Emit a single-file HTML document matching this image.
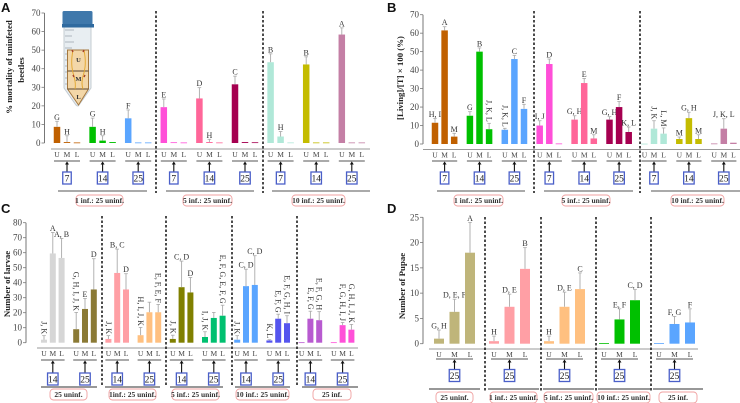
<!DOCTYPE html>
<html lang="en">
<head>
<meta charset="utf-8">
<title>Beetle mortality and offspring charts</title>
<style>
html,body{margin:0;padding:0;background:#fff;width:740px;height:403px;overflow:hidden}
svg{display:block;filter:blur(0.3px)}
text{font-family:"Liberation Serif",serif;fill:#333}
.ptitle{font-family:"Liberation Sans",sans-serif;font-weight:bold;font-size:13px;fill:#111}
.ax{font-weight:bold;font-size:8.8px;fill:#222}
.tick{font-size:9px;fill:#444}
.let{font-size:8px;fill:#333}
.uml{font-size:7.5px;fill:#444}
.pill{font-size:7.5px;font-weight:bold;fill:#333}
.day{font-size:9.5px;fill:#222}
</style>
</head>
<body>
<svg id="fig" xmlns="http://www.w3.org/2000/svg" width="740" height="403" viewBox="0 0 740 403">
<g>
  <path d="M64 27 H91 V88 L79 105 Q78 107 76 105 L64 88 Z" fill="#e8eef2" stroke="#c4ccd2" stroke-width="1"/>
  <rect x="62.5" y="11" width="30" height="14" rx="1.5" fill="#3f78ab"/>
  <rect x="62" y="24" width="32" height="3.5" fill="#2f6a9f"/>
  <path d="M65 30H74M65 36H72M65 42H74M65 48H72M65 54H74M65 60H72M65 66H74M65 72H72M65 78H74M65 84H72" stroke="#9aa5ad" stroke-width="0.8" fill="none"/>
  <path d="M67.5 50 H88.5 V89 L78.5 105 L67.5 89 Z" fill="#f3d7a8" stroke="#a5783f" stroke-width="1"/>
  <path d="M67.5 71H88.5" stroke="#5a4630" stroke-width="1"/>
  <path d="M67.5 89H88.5" stroke="#5a4630" stroke-width="1"/>
  <path d="M73 50 Q70 65 74 76 Q76 84 75 89M84 50 Q87 65 83 76 Q81 84 83 89" stroke="#e2a52a" stroke-width="0.9" fill="none"/>
  <path d="M72 50l1 2M84 50l-1 2M73 75l1 2M85 75l-1 2" stroke="#a5402a" stroke-width="1.4"/>
  <text x="78.5" y="62" text-anchor="middle" font-size="6.5" font-weight="bold">U</text>
  <text x="78.5" y="81" text-anchor="middle" font-size="6.5" font-weight="bold">M</text>
  <text x="78.5" y="99" text-anchor="middle" font-size="6.5" font-weight="bold">L</text>
</g>
</svg>
<script>
// Panel A: % mortality of uninfected beetles
const aValues = [8.7,0.5,0.3, 8.7,1.3,0.5, 13.3,0.3,0.3, 19.3,0.4,0.3, 24,0.5,0.3, 31.6,0.5,0.4, 43.5,3.5,0.3, 42.3,0.3,0.3, 58.4,0.3,0.3];
const aErrors = [11.7,3.9,null, 13.4,3.9,null, 17.8,null,null, 23.7,null,null, 29.8,2,null, 36,null,null, 48,6.2,null, 46.4,null,null, 62,null,null];
const aLabels = ["G","H","", "G","H","", "F","","", "E","","", "D","H","", "C","","", "B","H","", "B","","", "A","",""];
const aRotated = [];
const aTicks = [0,10,20,30,40,50,60,70];
const aDays = ["7","14","25","7","14","25","7","14","25"];
const aColors = ["#c06000","#00c000","#5aa5ff","#ff4fd8","#ff6699","#a50050","#b0e8d8","#c4bc00","#c47fa5"];

// Panel B: [Living]/[T] x 100 (%)
const bValues = [11.5,61.5,4, 15.3,50,8, 7.7,46,19, 10,43.3,0.3, 13.2,33,3, 13.2,20,6.5, 0.2,8.3,5.6, 2.7,14,2.7, 0.3,8.3,0.7];
const bErrors = [13.9,63.5,5.8, 17.5,52,11.2, 8.5,48,21.5, 12.6,46,null, 15.3,35.5,5, 14.8,23,9.2, null,12.6,8.7, 3.8,17.2,5, null,13.7,null];
const bLabels = ["H, I","A","M", "G","B","J, K, L", "J, K, L","C","F", "I, J","D","", "G, H","E","M", "G, H","F","K, L", "","J, K","L, M", "M","G, H","M", "","J, K, L",""];
const bRotated = [5,6,19,20];
const bTicks = [0,10,20,30,40,50,60,70];
const bDays = ["7","14","25","7","14","25","7","14","25"];
const bColors = aColors;

// Panel C: number of larvae
const cValues = [2,59.5,56.5, 9,22.5,35.5, 2.5,46.5,35.5, 5,20.3,20.3, 2.5,37,33.5, 3.8,16.5,18, 2,37.7,38.5, 1.5,16,13, 0.3,16,15, 0.3,11.7,8.7];
const cErrors = [4.7,73.5,69.5, 20.2,29.5,56, 4.7,62.4,46, 10.2,27,25.5, 5,54.4,43.5, 7.3,20.2,25, 4.7,49,58, 2,19,18, null,21,20.7, null,13.5,12.2];
const cLabels = ["J, K","A","A, B", "G, H, I, J, K","E","D", "J, K","B, C","D", "H, I, J, K","","E, F, E, F", "J, K","C, D","D", "I, J, K","","E, F, G, E, F, G", "J, K","C, D","C, D", "K, L","E, F, G","E, F, G, H, I", "","E, F, G","E, F, G, H", "","F, G, H, I, J","G, H, I, J, K"];
const cRotated = [0,3,6,9,11,12,15,17,18,21,22,23,25,26,28,29];
const cTicks = [0,10,20,30,40,50,60,70,80];
const cDays = ["14","25","14","25","14","25","14","25","14","25"];
const cColors = ["#d6d6d6","#8b7a35","#ff9fa5","#ffc080","#808000","#00c070","#5aa5ff","#5555ee","#b85ad0","#ff50d8"];

// Panel D: number of pupae
const dValues = [1,6.3,18, 0.5,7.3,14.8, 0.5,7.3,10.8, 0.1,4.8,8.6, 0.1,3.9,4.2];
const dErrors = [2.7,8.8,24, 1.5,9.8,19, 1.5,10.2,14, null,6.9,10.7, null,5.4,6.9];
const dLabels = ["G, H","D, E, F","A", "H","D, E","B", "H","D, E","C", "","E, F","C, D", "","F, G","F"];
const dRotated = [];
const dTicks = [0,5,10,15,20,25];
const dDays = ["25","25","25","25","25"];
const dColors = ["#bfb57a","#ff9fa5","#ffc080","#00c000","#5aa5ff"];

const layers = ["U","M","L"];

const NS = "http://www.w3.org/2000/svg";
const fig = document.getElementById("fig");

function mk(parent, tag, attrs, name, txt) {
  const el = document.createElementNS(NS, tag);
  for (const k in attrs) el.setAttribute(k, attrs[k]);
  
  
  if (txt !== undefined) el.textContent = txt;
  parent.appendChild(el);
  return el;
}

function drawPanel(p) {
  const g = mk(fig, "g", {}, "panel-" + p.id);
  const y = v => p.y0 - (v - p.vMin) * (p.y0 - p.y1) / (p.vMax - p.vMin);
  const xGroup = i => p.x0 + i * p.step;
  const xBar = (i, j) => xGroup(i) + j * p.gap;

  mk(g, "text", {x: p.lx, y: p.ly, class: "ptitle"}, "panel-letter-" + p.id, p.id.toUpperCase());
  mk(g, "line", {x1: p.axisX, x2: p.axisX, y1: y(p.vMax), y2: y(p.vMin), stroke: "#777", "stroke-width": 1}, "y-axis-" + p.id);
  p.ticks.forEach(t => {
    mk(g, "line", {x1: p.axisX - 3, x2: p.axisX, y1: y(t), y2: y(t), stroke: "#777", "stroke-width": 0.8}, "y-tick-" + p.id);
    mk(g, "text", {x: p.axisX - 4, y: y(t) + 3, "text-anchor": "end", class: "tick"}, "y-tick-label-" + p.id, t);
  });
  mk(g, "line", {x1: p.xa0, x2: p.xa1, y1: p.xaY, y2: p.xaY, stroke: "#999", "stroke-width": 1}, "x-axis-" + p.id);
  p.titles.forEach(t => {
    mk(g, "text", {x: 0, y: 0, transform: "translate(" + t[0] + "," + t[1] + ") rotate(-90)", "text-anchor": "middle", class: "ax"}, "y-axis-title-" + p.id, t[2]);
  });

  p.values.forEach((v, idx) => {
    const i = Math.floor(idx / 3), j = idx % 3;
    const cx = xBar(i, j);
    const top = y(v);
    const col = p.colors[i];
    mk(g, "rect", {x: cx - p.bw / 2, y: top, width: p.bw, height: Math.max(0.8, p.y0 - top), fill: col}, "bar-" + p.id + "-" + i + "-" + layers[j]);
    const e = p.errors[idx];
    if (e !== null) {
      mk(g, "line", {x1: cx, x2: cx, y1: y(e), y2: top, stroke: "#aaa", "stroke-width": 0.9}, "error-bar-" + p.id);
      mk(g, "line", {x1: cx - 1.8, x2: cx + 1.8, y1: y(e), y2: y(e), stroke: "#aaa", "stroke-width": 0.8}, "error-cap-" + p.id);
    }
    const lab = p.labels[idx];
    if (lab) {
      const ty = y(e !== null ? e : v) - 1.5;
      if (p.rotated.indexOf(idx) >= 0) {
        mk(g, "text", {x: 0, y: 0, transform: "translate(" + (cx - 2.5) + "," + ty + ") rotate(90)", "text-anchor": "end", class: "let"}, "significance-label-" + p.id, lab);
      } else {
        mk(g, "text", {x: cx, y: ty, "text-anchor": "middle", class: "let"}, "significance-label-" + p.id, lab);
      }
    }
    mk(g, "text", {x: cx, y: p.xaY + 8, "text-anchor": "middle", class: "uml"}, "layer-label-" + p.id, layers[j]);
  });

  p.days.forEach((d, i) => {
    const cx = xBar(i, 1);
    const ly = p.xaY + p.bracketOff;
    const by = ly + p.boxOff;
    mk(g, "line", {x1: xBar(i, 0) - 3, x2: xBar(i, 2) + 3, y1: ly, y2: ly, stroke: "#555", "stroke-width": 1.1}, "group-bracket-" + p.id);
    mk(g, "line", {x1: cx, x2: cx, y1: by, y2: ly + 3, stroke: "#111", "stroke-width": 1.1}, "arrow-shaft-" + p.id);
    mk(g, "path", {d: "M" + (cx - 2) + " " + (ly + 3.5) + "L" + cx + " " + (ly + 0.5) + "L" + (cx + 2) + " " + (ly + 3.5) + "Z", fill: "#111"}, "arrow-head-" + p.id);
    const w = d.length > 1 ? 10.5 : 8.5;
    mk(g, "rect", {x: cx - w / 2, y: by, width: w, height: 12, fill: "#fff", stroke: "#4a5fc8", "stroke-width": 1.3}, "day-box-" + p.id);
    mk(g, "text", {x: cx, y: by + 9.5, "text-anchor": "middle", class: "day"}, "day-label-" + p.id, d);
  });

  p.dividers.forEach(x => {
    mk(g, "line", {x1: x, x2: x, y1: p.divY0, y2: p.divY1, stroke: "#111", "stroke-width": 1.5, "stroke-dasharray": "2.5 2"}, "group-divider-" + p.id);
  });
  p.rules.forEach(r => {
    mk(g, "line", {x1: r[0], x2: r[1], y1: p.ruleY, y2: p.ruleY, stroke: p.ruleColor, "stroke-width": p.ruleWidth}, "treatment-rule-" + p.id);
  });
  p.pills.forEach(r => {
    mk(g, "rect", {x: r[0], y: p.pillY, width: r[1] - r[0], height: 11, rx: 3.5, fill: "#fff", stroke: "#f0a0a0", "stroke-width": 0.9}, "treatment-pill-" + p.id);
    mk(g, "text", {x: (r[0] + r[1]) / 2, y: p.pillY + 8, "text-anchor": "middle", class: "pill"}, "treatment-label-" + p.id, r[2]);
  });
}

drawPanel({id:"a", values:aValues, errors:aErrors, labels:aLabels, rotated:aRotated, ticks:aTicks, days:aDays, colors:aColors,
  vMin:0, vMax:70, y0:143, y1:13, x0:57, step:35.6, gap:10, bw:6.5, axisX:44.5, xa0:51, xa1:370, xaY:149, bracketOff:12, boxOff:11, lx:1, ly:12,
  titles:[[12,67,"%  mortality of uninfeted"],[24,70,"beetles"]],
  dividers:[156,263], divY0:11, divY1:193, ruleY:191, ruleColor:"#555", ruleWidth:1, pillY:195,
  rules:[[58,147],[166,254],[272,370]],
  pills:[[76,123,"1 inf.: 25 uninf."],[183,232,"5 inf.: 25 uninf."],[292,345,"10 inf.: 25 uninf."]]});

drawPanel({id:"b", values:bValues, errors:bErrors, labels:bLabels, rotated:bRotated, ticks:bTicks, days:bDays, colors:bColors,
  vMin:0, vMax:70, y0:144, y1:14.7, x0:435, step:34.9, gap:9.6, bw:6.5, axisX:423, xa0:423, xa1:740, xaY:149.5, bracketOff:11.5, boxOff:11, lx:387, ly:12,
  titles:[[403,78,"[Living]/[T] × 100 (%)"]],
  dividers:[534,640], divY0:11, divY1:193, ruleY:191, ruleColor:"#555", ruleWidth:1, pillY:195,
  rules:[[437,525],[544,633],[651,740]],
  pills:[[454,503,"1 inf.: 25 uninf."],[562,610,"5 inf.: 25 uninf."],[671,724,"10 inf.: 25 uninf."]]});

drawPanel({id:"c", values:cValues, errors:cErrors, labels:cLabels, rotated:cRotated, ticks:cTicks, days:cDays, colors:cColors,
  vMin:0, vMax:80, y0:342.7, y1:222.7, x0:44, step:32.2, gap:8.8, bw:6, axisX:26, xa0:37, xa1:358, xaY:348, bracketOff:12, boxOff:13, lx:1, ly:213,
  titles:[[10,284,"Number of larvae"]],
  dividers:[102,166,232,297], divY0:216, divY1:387, ruleY:387, ruleColor:"#777", ruleWidth:1.6, pillY:389,
  rules:[[41,97],[105,160],[170,223],[235,290],[302,358]],
  pills:[[50,87,"25 uninf."],[109,156,"1inf.: 25 uninf."],[172,219,"5 inf.: 25 uninf."],[236,289,"10 inf.: 25 uninf."],[313,351,"25 inf."]]});

drawPanel({id:"d", values:dValues, errors:dErrors, labels:dLabels, rotated:dRotated, ticks:dTicks, days:dDays, colors:dColors,
  vMin:0, vMax:25, y0:343.7, y1:217.3, x0:439, step:55, gap:15.5, bw:10, axisX:423, xa0:429, xa1:698, xaY:349, bracketOff:10, boxOff:10.5, lx:387, ly:213,
  titles:[[405,286,"Number of Pupae"]],
  dividers:[485,541,596,651], divY0:217, divY1:392, ruleY:389, ruleColor:"#777", ruleWidth:1.6, pillY:392,
  rules:[[429,480],[488,539],[543,594],[598,650],[653,703]],
  pills:[[436,473,"25 uninf."],[490,537,"1 inf.: 25 uninf."],[544,593,"5 inf.: 25 uninf."],[597,650,"10 inf.: 25 uninf."],[659,697,"25 inf."]]});
</script>
</body>
</html>
